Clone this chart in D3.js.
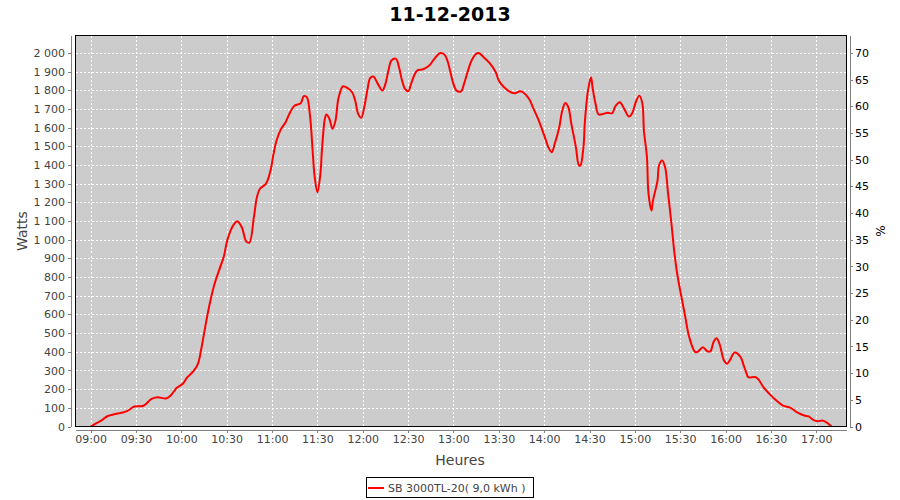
<!DOCTYPE html>
<html>
<head>
<meta charset="utf-8">
<script src="https://cdn.jsdelivr.net/npm/d3@7"></script>
<style>
  html, body { margin: 0; padding: 0; background: #ffffff; }
  svg { display: block; }
  text { font-family: "DejaVu Sans", sans-serif; }
</style>
</head>
<body>
<svg id="chart" width="900" height="500"></svg>
<script>
// ---------------- data ----------------
const chartTitle = "11-12-2013";
const seriesName = "SB 3000TL-20( 9,0 kWh )";
const times = [
  "09:00","09:03","09:08","09:11","09:15","09:21","09:24","09:29","09:35","09:40",
  "09:44","09:50","09:53","09:57","10:01","10:04","10:08","10:11","10:13","10:15",
  "10:17","10:19","10:22","10:26","10:28","10:31","10:35","10:37","10:40","10:43",
  "10:45","10:48","10:50","10:52","10:56","10:59","11:01","11:03","11:06","11:09",
  "11:12","11:15","11:19","11:21","11:23","11:25","11:27","11:28","11:30","11:32",
  "11:33","11:35","11:36","11:38","11:40","11:42","11:44","11:47","11:50","11:53",
  "11:55","11:57","11:59","12:01","12:03","12:05","12:07","12:10","12:13","12:15",
  "12:17","12:19","12:22","12:24","12:26","12:28","12:30","12:32","12:34","12:36",
  "12:40","12:44","12:47","12:51","12:54","12:56","12:58","13:00","13:02","13:05",
  "13:07","13:09","13:12","13:15","13:17","13:20","13:24","13:28","13:30","13:33",
  "13:38","13:41","13:44","13:46","13:50","13:53","13:56","14:00","14:03","14:05",
  "14:07","14:10","14:12","14:14","14:16","14:18","14:21","14:23","14:24","14:26",
  "14:27","14:29","14:31","14:32","14:34","14:36","14:39","14:42","14:45","14:47",
  "14:50","14:53","14:56","14:58","15:01","15:03","15:05","15:06","15:08","15:09",
  "15:11","15:12","15:15","15:16","15:18","15:20","15:22","15:24","15:26","15:28",
  "15:30","15:33","15:36","15:40","15:42","15:45","15:48","15:50","15:52","15:54",
  "15:56","15:59","16:01","16:03","16:06","16:10","16:12","16:14","16:15","16:20",
  "16:22","16:25","16:29","16:34","16:38","16:43","16:47","16:52","16:55","16:58",
  "17:01","17:04","17:07","17:10"
];
const watts = [
  0,14,37,55,64,75,82,107,111,146,
  157,150,166,207,229,264,296,336,407,496,
  585,665,764,860,907,1014,1085,1099,1067,990,
  985,1121,1228,1273,1300,1371,1460,1532,1594,1630,
  1683,1719,1731,1769,1764,1674,1460,1353,1255,1353,
  1478,1650,1671,1647,1594,1639,1760,1822,1812,1790,
  1746,1674,1653,1710,1799,1867,1874,1835,1799,1835,
  1906,1960,1969,1924,1853,1808,1795,1835,1880,1906,
  1913,1933,1965,1999,1992,1960,1897,1835,1799,1795,
  1835,1889,1960,1996,1999,1978,1946,1897,1853,1821,
  1790,1785,1795,1790,1755,1701,1648,1560,1492,1469,
  1514,1603,1692,1733,1710,1621,1496,1398,1398,1496,
  1639,1799,1870,1817,1728,1671,1674,1680,1678,1714,
  1737,1701,1660,1674,1746,1772,1728,1585,1442,1250,
  1157,1210,1317,1398,1424,1389,1246,1103,942,818,
  728,603,478,398,403,425,403,403,451,473,
  443,353,336,357,396,371,327,282,264,264,
  250,211,175,136,112,100,77,59,54,36,
  28,32,21,0
];
const timeTicks = ["09:00","09:30","10:00","10:30","11:00","11:30","12:00","12:30",
  "13:00","13:30","14:00","14:30","15:00","15:30","16:00","16:30","17:00"];
const wattTicks = [0,100,200,300,400,500,600,700,800,900,1000,1100,1200,1300,1400,
  1500,1600,1700,1800,1900,2000];
const pctTicks = [0,5,10,15,20,25,30,35,40,45,50,55,60,65,70];
const timeDomain = ["08:50","17:20"];
const wattMax = 2094;
const pctMax = 73.3;
const xLabel = "Heures", yLabel = "Watts", y2Label = "%";

// ---------------- drawing ----------------
const parse = d3.timeParse("%H:%M");
const fmtTime = d3.timeFormat("%H:%M");
const locale = d3.formatLocale({decimal: ",", thousands: " ", grouping: [3], currency: ["", ""]});
const fmtW = locale.format(",d");

const L = 75.5, R = 846.5, T = 35.5, B = 426.5;
const svg = d3.select("#chart");

const x = d3.scaleTime().domain(timeDomain.map(parse)).range([L, R]);
const y = d3.scaleLinear().domain([0, wattMax]).range([B, T]);
const y2 = d3.scaleLinear().domain([0, pctMax]).range([B, T]);

const data = times.map((t, i) => ({t: parse(t), w: watts[i]}));

// title
svg.append("text").attr("x", 450).attr("y", 21).attr("text-anchor", "middle")
  .style("font-size", "19px").style("font-weight", "bold").attr("fill", "#000")
  .text(chartTitle);

// plot background
svg.append("rect").attr("x", L).attr("y", T).attr("width", R - L).attr("height", B - T)
  .attr("fill", "#cccccc");

const snap = v => Math.round(v) + 0.5;

// grid
const grid = svg.append("g").attr("stroke", "#ffffff").attr("stroke-width", 1)
  .attr("stroke-dasharray", "2,2").attr("shape-rendering", "crispEdges");
grid.selectAll("line.h").data(wattTicks).join("line").attr("class", "h")
  .attr("x1", L).attr("x2", R).attr("y1", d => snap(y(d))).attr("y2", d => snap(y(d)));
grid.selectAll("line.v").data(timeTicks).join("line").attr("class", "v")
  .attr("y1", T).attr("y2", B).attr("x1", d => snap(x(parse(d)))).attr("x2", d => snap(x(parse(d))));

// clip
svg.append("clipPath").attr("id", "clip").append("rect")
  .attr("x", L).attr("y", T).attr("width", R - L).attr("height", B - T);

// line
const line = d3.line().x(d => x(d.t)).y(d => y(d.w)).curve(d3.curveCatmullRom.alpha(0.5));
svg.append("path").datum(data).attr("clip-path", "url(#clip)")
  .attr("fill", "none").attr("stroke", "#ff0000").attr("stroke-width", 2)
  .attr("stroke-linejoin", "round").attr("d", line);

// plot border
svg.append("rect").attr("x", L).attr("y", T).attr("width", R - L).attr("height", B - T)
  .attr("fill", "none").attr("stroke", "#000").attr("stroke-width", 1)
  .attr("shape-rendering", "crispEdges");

// axes
function styleAxis(g, color) {
  g.selectAll("path.domain").attr("stroke", "#808080");
  g.selectAll(".tick line").attr("stroke", "#808080");
  g.selectAll(".tick text").style("font-size", "11px").style("font-family", "'DejaVu Sans', sans-serif")
    .attr("fill", color);
  g.attr("shape-rendering", "crispEdges");
}

const gl = svg.append("g").attr("transform", "translate(71,0)")
  .call(d3.axisLeft(y).tickValues(wattTicks).tickFormat(fmtW).tickSizeInner(3).tickSizeOuter(0).tickPadding(3));
styleAxis(gl, "#444444");

const gb = svg.append("g").attr("transform", "translate(0,430)")
  .call(d3.axisBottom(x).tickValues(timeTicks.map(parse)).tickFormat(fmtTime).tickSizeInner(3).tickSizeOuter(0).tickPadding(2));
styleAxis(gb, "#444444");

const gr = svg.append("g").attr("transform", "translate(850,0)")
  .call(d3.axisRight(y2).tickValues(pctTicks).tickFormat(d3.format("d")).tickSizeInner(3).tickSizeOuter(0).tickPadding(2));
styleAxis(gr, "#000000");

// axis labels
svg.append("text").attr("transform", "translate(27,231) rotate(-90)").attr("text-anchor", "middle")
  .style("font-size", "14px").attr("fill", "#444444").text(yLabel);
svg.append("text").attr("x", 460).attr("y", 465).attr("text-anchor", "middle")
  .style("font-size", "14px").attr("fill", "#444444").text(xLabel);
svg.append("text").attr("transform", "translate(885,231) rotate(-90)").attr("text-anchor", "middle")
  .style("font-size", "12px").attr("fill", "#000").text(y2Label);

// legend
const lg = svg.append("g");
lg.append("rect").attr("x", 366.5).attr("y", 477.5).attr("width", 167).attr("height", 20)
  .attr("fill", "#fff").attr("stroke", "#000").attr("stroke-width", 1).attr("shape-rendering", "crispEdges");
lg.append("line").attr("x1", 368).attr("x2", 384).attr("y1", 488).attr("y2", 488)
  .attr("stroke", "#ff0000").attr("stroke-width", 2);
lg.append("text").attr("x", 388).attr("y", 492).style("font-size", "11px").attr("fill", "#444444")
  .text(seriesName);
</script>
</body>
</html>
